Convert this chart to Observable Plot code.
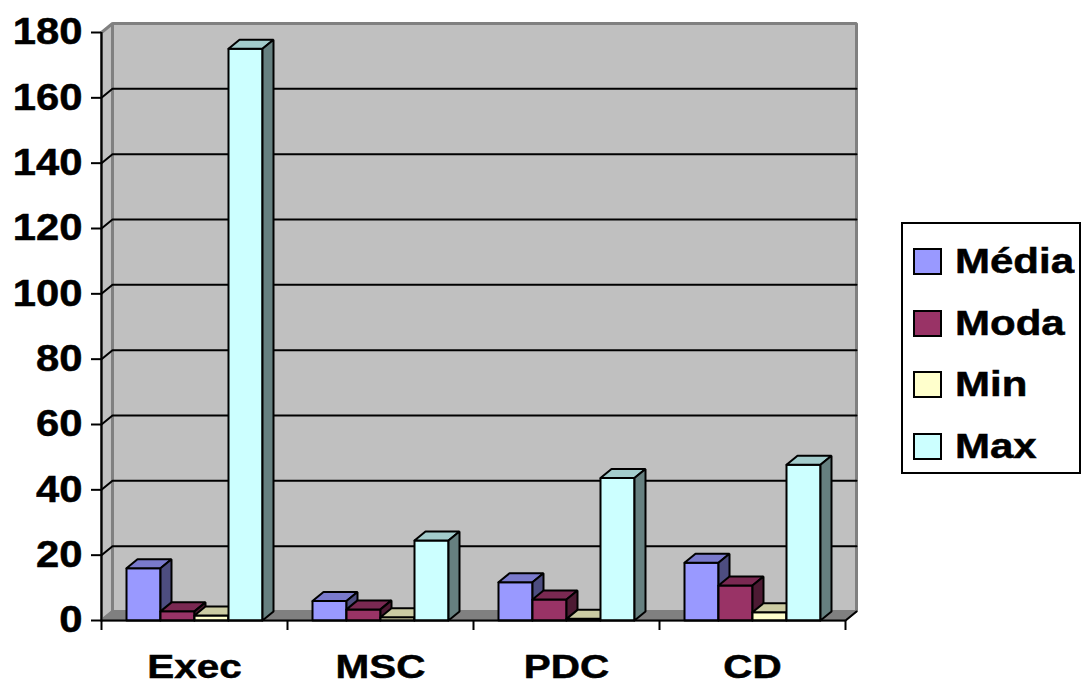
<!DOCTYPE html>
<html>
<head>
<meta charset="utf-8">
<script src="https://cdn.jsdelivr.net/npm/d3@7"></script>
<script src="https://cdn.jsdelivr.net/npm/@observablehq/plot@0.6"></script>
<style>
  body { margin: 0; background: #fff; }
  #wrap { position: relative; width: 1081px; height: 686px; font-family: "Liberation Sans", Arial, sans-serif; font-weight: bold; }
  #legend { position: absolute; left: 901px; top: 222px; width: 176px; height: 248px; border: 2px solid #000; background: #fff; box-sizing: content-box; }
  .item { position: absolute; left: 10px; height: 40px; display: flex; align-items: center; font-size: 35px; color: #000; }
  .item span { display: inline-block; transform: scaleX(1.2); transform-origin: left center; -webkit-text-stroke: 0.5px #000; }
  .sw { width: 25px; height: 23px; border: 2px solid #000; margin-right: 13px; flex: none; }
</style>
</head>
<body>
<div id="wrap"><div id="chart"></div><div id="legend"></div></div>
<script>
// Categories and series
const categories = ["Exec", "MSC", "PDC", "CD"];
const seriesNames = ["Média", "Moda", "Min", "Max"];
const media  = [16, 6, 11.7, 17.7];
const moda   = [2.8, 3.4, 6.4, 10.7];
const minimo = [1.5, 1, 0.5, 2.5];
const maximo = [175, 24.5, 43.6, 47.7];
const yTicks = [0, 20, 40, 60, 80, 100, 120, 140, 160, 180];
const seriesColors = ["#9999FF", "#993366", "#FFFFCC", "#CCFFFF"];

const seriesValues = [media, moda, minimo, maximo];

// Layout
const W = 1081, H = 686;
const mL = 101, mR = 236, mT = 32, mB = 66;
const yMax = 180;
const band = (W - mL - mR) / categories.length;   // px per category
const ux = 1 / band;                               // x units per px
const uy = yMax / (H - mT - mB);                   // y units per px
const DX = 11 * ux, DY = 9 * uy;                   // oblique depth
const GAP = 25 * ux, BW = 34 * ux;                 // cluster padding, bar width

const shade = (c, k) => { const r = d3.rgb(c); return d3.rgb(r.r * k, r.g * k, r.b * k).formatHex(); };

// Closed polygon rows for the line mark
function pushPoly(arr, id, pts, fill) {
  pts.concat([pts[0]]).forEach(([x, y]) => arr.push({id, x, y, fill}));
}

// Bar faces: front, top, side — drawn left to right
const barFaces = [];
categories.forEach((c, i) => {
  seriesValues.forEach((vals, j) => {
    const v = vals[i];
    const x0 = i + GAP + j * BW, x1 = x0 + BW;
    const col = seriesColors[j];
    pushPoly(barFaces, `${c}-${j}-front`, [[x0, 0], [x1, 0], [x1, v], [x0, v]], col);
    pushPoly(barFaces, `${c}-${j}-top`, [[x0, v], [x1, v], [x1 + DX, v + DY], [x0 + DX, v + DY]], shade(col, 0.8));
    pushPoly(barFaces, `${c}-${j}-side`, [[x1, 0], [x1 + DX, DY], [x1 + DX, v + DY], [x1, v]], shade(col, 0.5));
  });
});

const n = categories.length;
const backWall = [], leftWall = [], floor = [];
pushPoly(backWall, "back", [[DX, DY], [n + DX, DY], [n + DX, yMax + DY], [DX, yMax + DY]], "#C0C0C0");
pushPoly(leftWall, "left", [[0, 0], [DX, DY], [DX, yMax + DY], [0, yMax]], "#C0C0C0");
pushPoly(floor, "floor", [[0, 0], [n, 0], [n + DX, DY], [DX, DY]], "#808080");

// Gridlines on the side and back walls
const grid = [];
yTicks.filter(t => t > 0 && t < yMax).forEach(t => {
  grid.push({t, x: 0, y: t}, {t, x: DX, y: t + DY}, {t, x: n + DX, y: t + DY});
});

const chart = Plot.plot({
  width: W, height: H,
  marginLeft: mL, marginRight: mR, marginTop: mT, marginBottom: mB,
  x: {domain: [0, n]},
  y: {domain: [0, yMax]},
  color: {type: "identity"},
  style: {background: "white", fontFamily: "'Liberation Sans', Arial, sans-serif", fontWeight: "bold", overflow: "visible"},
  marks: [
    Plot.line(backWall, {x: "x", y: "y", z: "id", fill: "fill", stroke: "#808080", strokeWidth: 3, strokeLinejoin: "miter"}),
    Plot.line(leftWall, {x: "x", y: "y", z: "id", fill: "fill", stroke: "#808080", strokeWidth: 3, strokeLinejoin: "miter"}),
    Plot.line(floor, {x: "x", y: "y", z: "id", fill: "fill", stroke: "#808080", strokeWidth: 2, strokeLinejoin: "miter"}),
    Plot.line(grid, {x: "x", y: "y", z: "t", stroke: "#000", strokeWidth: 2, strokeLinejoin: "miter"}),
    Plot.line(barFaces, {x: "x", y: "y", z: "id", fill: "fill", stroke: "#000", strokeWidth: 2, strokeLinejoin: "miter"}),
    // front axis lines
    Plot.ruleX([0], {y1: 0, y2: yMax, stroke: "#000", strokeWidth: 2}),
    Plot.ruleY([0], {x1: 0, x2: n, stroke: "#000", strokeWidth: 2}),
    Plot.line([{x: n, y: 0}, {x: n + DX, y: DY}], {x: "x", y: "y", stroke: "#000", strokeWidth: 2}),
    // category boundary ticks
    Plot.ruleX(d3.range(n + 1), {y1: 0, y2: -10 * uy, stroke: "#000", strokeWidth: 2}),
    Plot.axisY({ticks: yTicks, tickSize: 10, tickPadding: 9, fontSize: 37, fontWeight: "bold", strokeWidth: 2, label: null, tickFormat: d3.format("d")}),
    Plot.axisX({ticks: categories.map((_, i) => i + 0.5), tickFormat: d => categories[Math.floor(d)], tickSize: 0, tickPadding: 33, fontSize: 34, fontWeight: "bold", label: null})
  ]
});

// Widen the tick label glyphs horizontally around their anchor point
function widen(sel, s) {
  sel.each(function () {
    const t = this.getAttribute("transform") || "";
    const x = +this.getAttribute("x") || 0;
    this.setAttribute("transform", `${t} translate(${x},0) scale(${s},1) translate(${-x},0)`);
    this.setAttribute("stroke", "#000");
    this.setAttribute("stroke-width", "0.5");
  });
}
widen(d3.select(chart).selectAll('g[aria-label="y-axis tick label"] text'), 1.13);
widen(d3.select(chart).selectAll('g[aria-label="x-axis tick label"] text'), 1.19);
document.getElementById("chart").appendChild(chart);

// Legend
const legend = document.getElementById("legend");
const rowCenters = [37, 99, 160, 222];
seriesNames.forEach((name, j) => {
  const item = document.createElement("div");
  item.className = "item";
  item.style.top = (rowCenters[j] - 20) + "px";
  const sw = document.createElement("div");
  sw.className = "sw";
  sw.style.background = seriesColors[j];
  const label = document.createElement("span");
  label.textContent = name;
  item.appendChild(sw);
  item.appendChild(label);
  legend.appendChild(item);
});
</script>
</body>
</html>
